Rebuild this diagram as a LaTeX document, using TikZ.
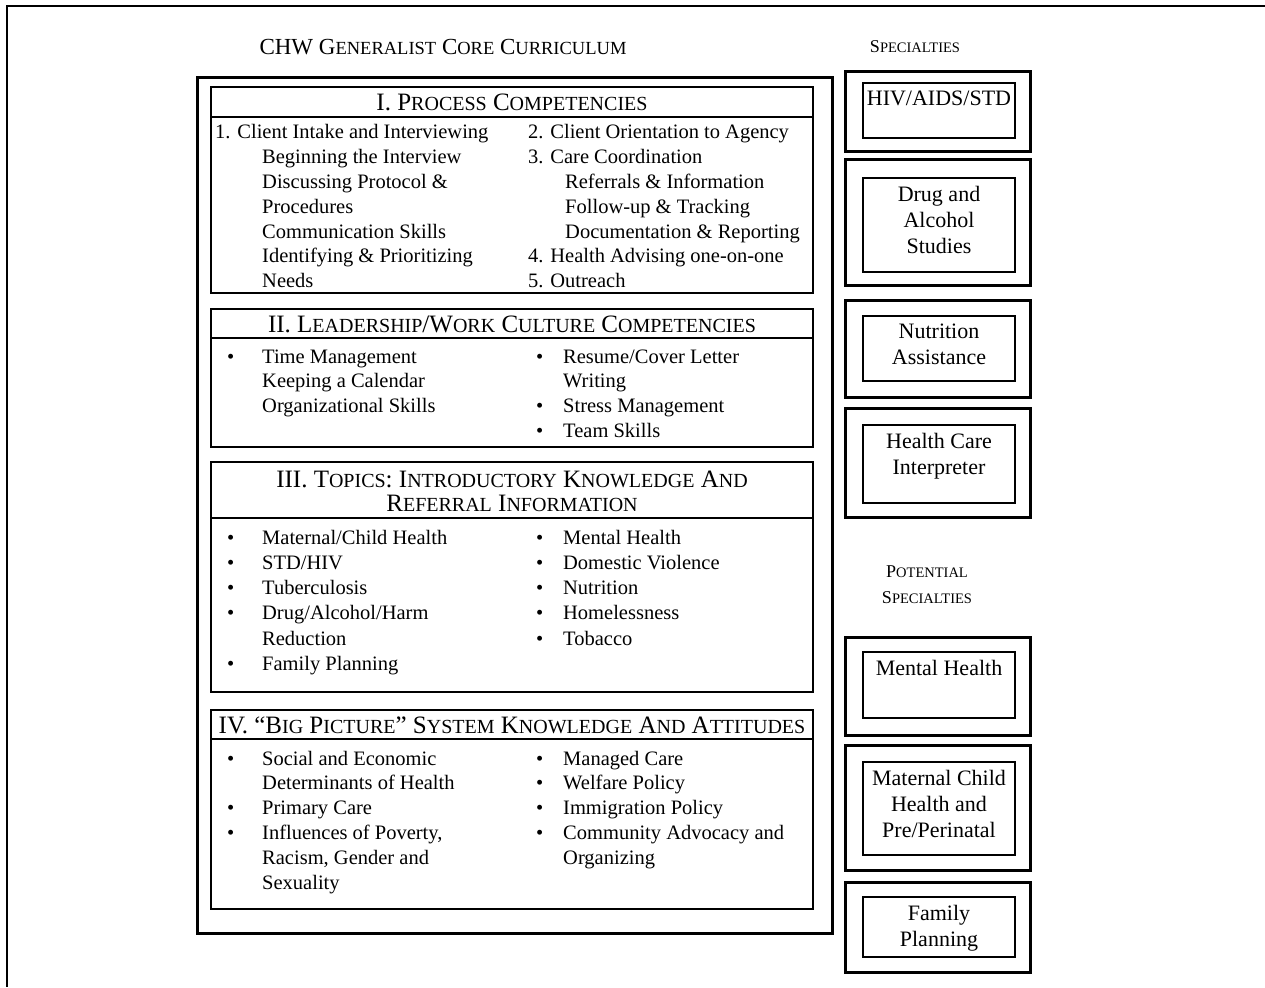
\documentclass[tikz,border=0pt]{standalone}
\usepackage{fontspec}
\setmainfont{Liberation Serif}
\usetikzlibrary{positioning}

% Liberation Serif has no small caps, so they are faked by size
\newcommand{\tsc}[1]{{\fontsize{18.5}{20}\selectfont #1}}
\newcommand{\hsc}[1]{{\fontsize{20}{24}\selectfont #1}}
\newcommand{\lsc}[1]{{\fontsize{14.5}{17}\selectfont #1}}
\newcommand{\bodyfont}{\fontsize{20.5}{24.8}\selectfont}
\newcommand{\topicfont}{\fontsize{20.5}{25.3}\selectfont}
\newcommand{\headfont}{\fontsize{25}{24}\selectfont}
\newcommand{\specfont}{\fontsize{22}{26}\selectfont}
\newcommand{\itemcol}[2]{\begin{tabular}[t]{@{}p{#1}@{}l@{}}#2\end{tabular}}

\tikzset{
    frameline/.style={line width=2pt},
    mainbox/.style={draw, line width=3pt},
    secbox/.style={draw, line width=1.5pt},
    specout/.style={draw, line width=3pt},
    specin/.style={draw, line width=1.3pt},
    head/.style={font=\headfont, align=center, inner sep=0pt},
    body/.style={font=\bodyfont, anchor=base west, inner sep=0pt},
    spectext/.style={font=\specfont, align=center, anchor=north, inner sep=0pt},
    sidelabel/.style={font=\fontsize{18}{26}\selectfont, align=center, inner sep=0pt}
}

\begin{document}
\begin{tikzpicture}[x=1pt,y=-1pt]
\useasboundingbox (0,0) rectangle (1265,987);
\draw[frameline] (1265,6) -- (7,6) -- (7,987);

% core curriculum
\node[font=\fontsize{23}{24}\selectfont, inner sep=0pt] (title) at (443,47)
    {CHW G\tsc{ENERALIST} C\tsc{ORE} C\tsc{URRICULUM}};
\draw[mainbox] (197,78) rectangle (832,933);

\foreach \t/\h/\b in {87/117/293, 309/338/447, 462/518/692, 710/739/909}
{
    \draw[secbox] (211,\t) rectangle (813,\b);
    \draw[secbox] (211,\h) -- (813,\h);
}

\node[head] (procHead) at (512,102) {I. P\hsc{ROCESS} C\hsc{OMPETENCIES}};
\node[body] (procL) at (215,139) {\itemcol{47pt}{%
    \multicolumn{2}{@{}l@{}}{1. Client Intake and Interviewing}\\
    & Beginning the Interview\\
    & Discussing Protocol \&\\
    & Procedures\\
    & Communication Skills\\
    & Identifying \& Prioritizing\\
    & Needs}};
\node[body] (procR) at (528,139) {\itemcol{37pt}{%
    \multicolumn{2}{@{}l@{}}{2. Client Orientation to Agency}\\
    \multicolumn{2}{@{}l@{}}{3. Care Coordination}\\
    & Referrals \& Information\\
    & Follow-up \& Tracking\\
    & Documentation \& Reporting\\
    \multicolumn{2}{@{}l@{}}{4. Health Advising one-on-one}\\
    \multicolumn{2}{@{}l@{}}{5. Outreach}}};

\node[head] (leadHead) at (512,324)
    {II. L\hsc{EADERSHIP}/W\hsc{ORK} C\hsc{ULTURE} C\hsc{OMPETENCIES}};
\node[body] (leadL) at (227,363) {\itemcol{35pt}{%
    \textbullet & Time Management\\
    & Keeping a Calendar\\
    & Organizational Skills}};
\node[body] (leadR) at (536,363) {\itemcol{27pt}{%
    \textbullet & Resume/Cover Letter\\
    & Writing\\
    \textbullet & Stress Management\\
    \textbullet & Team Skills}};

\node[head] (topHead) at (512,491)
    {III. T\hsc{OPICS}: I\hsc{NTRODUCTORY} K\hsc{NOWLEDGE} A\hsc{ND}\\
     R\hsc{EFERRAL} I\hsc{NFORMATION}};
\node[body, font=\topicfont] (topL) at (227,544) {\itemcol{35pt}{%
    \textbullet & Maternal/Child Health\\
    \textbullet & STD/HIV\\
    \textbullet & Tuberculosis\\
    \textbullet & Drug/Alcohol/Harm\\
    & Reduction\\
    \textbullet & Family Planning}};
\node[body, font=\topicfont] (topR) at (536,544) {\itemcol{27pt}{%
    \textbullet & Mental Health\\
    \textbullet & Domestic Violence\\
    \textbullet & Nutrition\\
    \textbullet & Homelessness\\
    \textbullet & Tobacco}};

\node[head] (bigHead) at (512,725)
    {IV. “B\hsc{IG} P\hsc{ICTURE}” S\hsc{YSTEM} K\hsc{NOWLEDGE} A\hsc{ND} A\hsc{TTITUDES}};
\node[body] (bigL) at (227,765) {\itemcol{35pt}{%
    \textbullet & Social and Economic\\
    & Determinants of Health\\
    \textbullet & Primary Care\\
    \textbullet & Influences of Poverty,\\
    & Racism, Gender and\\
    & Sexuality}};
\node[body] (bigR) at (536,765) {\itemcol{27pt}{%
    \textbullet & Managed Care\\
    \textbullet & Welfare Policy\\
    \textbullet & Immigration Policy\\
    \textbullet & Community Advocacy and\\
    & Organizing}};

% specialties column
\node[sidelabel] (spec) at (915,47) {S\lsc{PECIALTIES}};
\node[sidelabel] (potspec) at (927,585) {P\lsc{OTENTIAL}\\S\lsc{PECIALTIES}};

\foreach \n/\ot/\ob/\it/\ib/\txt in {
    hiv/72/152/83/138/{HIV/AIDS/STD},
    drug/160/285/178/272/{Drug and\\Alcohol\\Studies},
    nutr/300/397/316/381/{Nutrition\\Assistance},
    interp/408/517/425/503/{Health Care\\Interpreter},
    mental/637/735/652/718/{Mental Health},
    mch/745/870/762/855/{Maternal Child\\Health and\\Pre/Perinatal},
    fam/882/972/897/957/{Family\\Planning}}
{
    \draw[specout] (845,\ot) rectangle (1030,\ob);
    \draw[specin] (863,\it) rectangle (1015,\ib);
    \node[spectext] (\n) at (939,\it+8) {\txt};
}
\end{tikzpicture}
\end{document}
